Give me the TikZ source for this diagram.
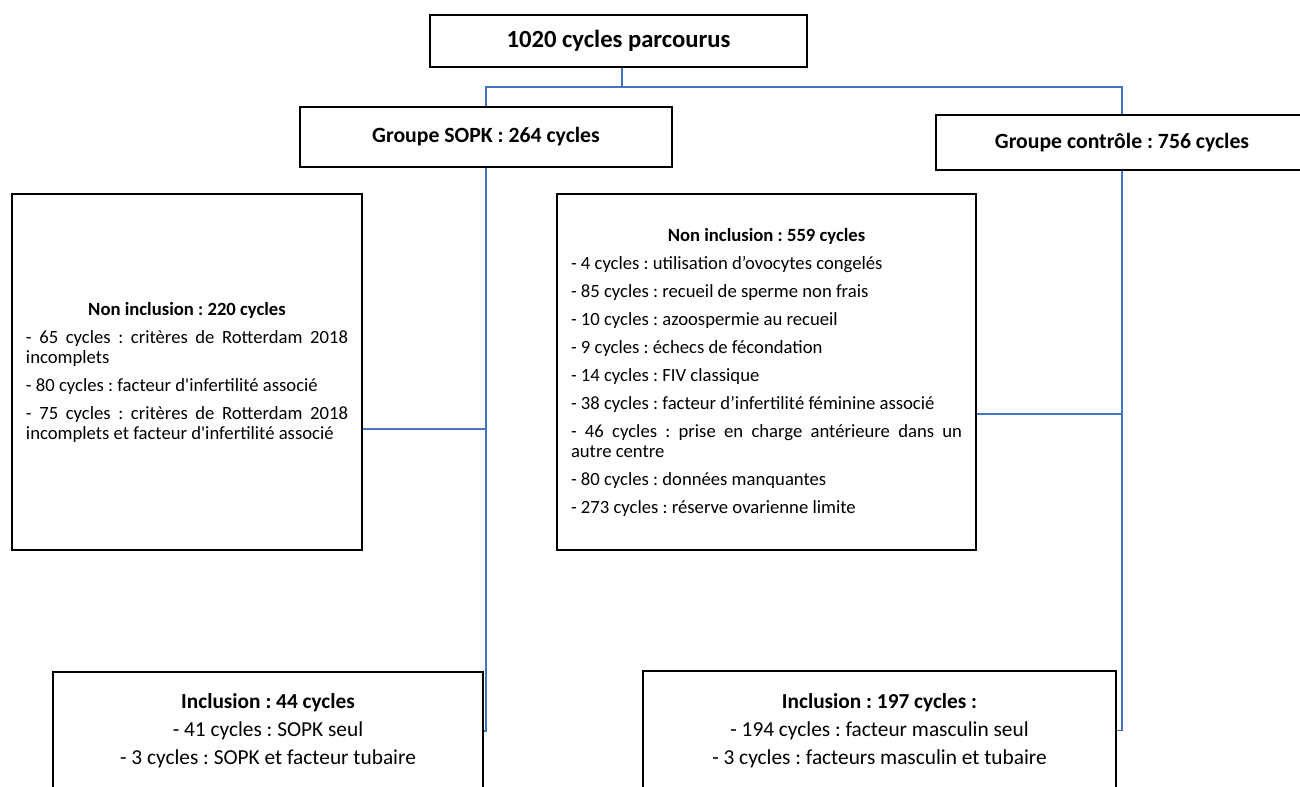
\documentclass[tikz,border=0pt]{standalone}
\usepackage{fontspec}
\newfontfamily\calibri{Carlito}
\hyphenpenalty=10000
\exhyphenpenalty=10000
\tolerance=9999

\begin{document}
\frenchspacing
\begin{tikzpicture}[x=0.75pt,y=0.75pt,yscale=-1,xscale=1,
    boite/.style={draw,line width=1.1pt,fill=white,align=center,font=\calibri},
    liste/.style={boite,align=justify,inner xsep=10.5pt,minimum height=267pt,font=\calibri\fontsize{14}{15}\selectfont},
    lien/.style={draw={rgb,255:red,68;green,114;blue,196},line width=1.2pt}]
    \useasboundingbox (0,0) rectangle (1300,787);
    \node (total) at (618.5,41) [boite,minimum width=282.75pt,minimum height=39pt,font=\calibri\fontsize{18.5}{22}\selectfont\bfseries] {1020 cycles parcourus};
    \node (sopk) at (486,137) [boite,minimum width=279pt,minimum height=45pt,font=\calibri\fontsize{16.3}{20}\selectfont\bfseries] {Groupe SOPK : 264 cycles};
    \node (ctrl) at (1122,142.5) [boite,minimum width=279pt,minimum height=41.25pt,font=\calibri\fontsize{16.3}{20}\selectfont\bfseries] {Groupe contrôle : 756 cycles};
    \node (nonsopk) at (187,372) [liste,text width=241.5pt] {\makebox[\hsize]{\textbf{Non inclusion : 220 cycles}}\\[6pt]
        - 65 cycles : critères de Rotterdam 2018 incomplets\\[6pt]
        - 80 cycles : facteur d'infertilité associé\\[6pt]
        - 75 cycles : critères de Rotterdam 2018 incomplets et facteur d'infertilité associé};
    \node (nonctrl) at (766.5,372) [liste,text width=293.25pt] {\makebox[\hsize]{\textbf{Non inclusion : 559 cycles}}\\[6pt]
        - 4 cycles : utilisation d’ovocytes congelés\\[6pt]
        - 85 cycles : recueil de sperme non frais\\[6pt]
        - 10 cycles : azoospermie au recueil\\[6pt]
        - 9 cycles : échecs de fécondation\\[6pt]
        - 14 cycles : FIV classique\\[6pt]
        - 38 cycles : facteur d’infertilité féminine associé\\[6pt]
        - 46 cycles : prise en charge antérieure dans un\linebreak autre centre\\[6pt]
        - 80 cycles : données manquantes\\[6pt]
        - 273 cycles : réserve ovarienne limite};
    \node (incsopk) at (268,731) [boite,minimum width=322.5pt,minimum height=88.5pt,font=\calibri\fontsize{16}{21}\selectfont] {\textbf{Inclusion : 44 cycles}\\- 41 cycles : SOPK seul\\- 3 cycles : SOPK et facteur tubaire};
    \node (incctrl) at (879.5,730.5) [boite,minimum width=354.75pt,minimum height=89.25pt,font=\calibri\fontsize{16}{21}\selectfont] {\textbf{Inclusion : 197 cycles :}\\- 194 cycles : facteur masculin seul\\- 3 cycles : facteurs masculin et tubaire};
    \coordinate (fourche) at (621,87);
    \draw[lien] ([xshift=2.5]total.south) -- ([xshift=2.5]total.south |- fourche) -| (sopk.north);
    \draw[lien] (fourche) -| (ctrl.north);
    \draw[lien] (sopk.south) |- (incsopk.east);
    \coordinate (jsopk) at ([yshift=42.75pt]nonsopk.east);
    \draw[lien] (jsopk) -- (jsopk -| sopk.south);
    \draw[lien] (ctrl.south) |- (incctrl.east);
    \coordinate (jctrl) at ([yshift=31.3pt]nonctrl.east);
    \draw[lien] (jctrl) -- (jctrl -| ctrl.south);
\end{tikzpicture}
\end{document}
